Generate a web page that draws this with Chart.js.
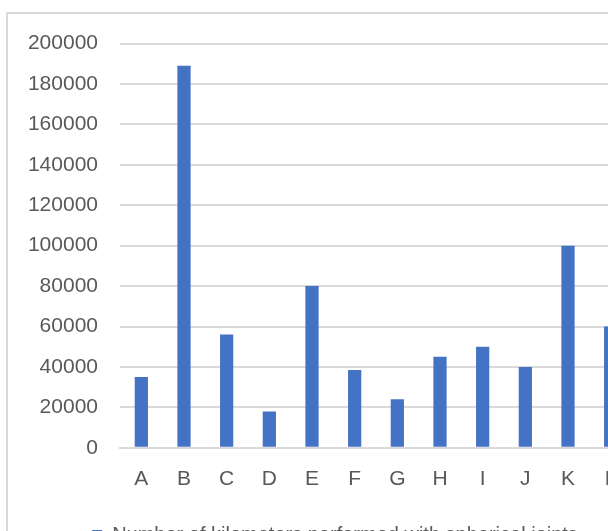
<!DOCTYPE html>
<html>
<head>
<meta charset="utf-8">
<script src="https://cdn.jsdelivr.net/npm/chart.js@4/dist/chart.umd.min.js"></script>
<style>
  body { margin: 0; background: #fff; overflow: hidden; width: 608px; height: 531px; }
  #frame { position: absolute; left: 6px; top: 12px; width: 680px; height: 580px; border: 2px solid #d9d9d9; }
  canvas { position: absolute; left: 0; top: -5px; }
</style>
</head>
<body>
<div id="frame"><canvas id="chart" width="660" height="546"></canvas></div>
<script>
// categories and values
const categories = ['A', 'B', 'C', 'D', 'E', 'F', 'G', 'H', 'I', 'J', 'K', 'L'];
const kilometers = [35000, 189000, 56000, 18000, 80000, 38500, 24000, 45000, 50000, 40000, 100000, 60000];
const seriesName = 'Number of kilometers performed with spherical joints';

const textColor = '#595959';
const gridColor = '#d9d9d9';
const font = { family: '"Liberation Sans", Arial, sans-serif', size: 21 };

// the legend sits centred on the whole (wider) chart, a bit right of our canvas centre
const legendShift = {
    id: 'legendShift',
    afterLayout(chart) {
        chart.legend.left += 15;
        chart.legend.right += 15;
    }
};

new Chart(document.getElementById('chart'), {
    type: 'bar',
    data: {
        labels: categories,
        datasets: [{
            label: seriesName,
            data: kilometers,
            backgroundColor: '#4472C4',
            barPercentage: 0.31,
            categoryPercentage: 1
        }]
    },
    options: {
        responsive: false,
        animation: false,
        layout: { padding: { top: 12, right: 36, left: 0, bottom: 0 } },
        plugins: {
            tooltip: { enabled: false },
            legend: {
                position: 'bottom',
                labels: { color: textColor, font: { family: font.family, size: 20 }, boxWidth: 10, boxHeight: 10, padding: 14 }
            }
        },
        scales: {
            x: {
                grid: { display: false, drawTicks: false },
                border: { color: gridColor, width: 2 },
                ticks: { color: textColor, font: font, padding: 19 }
            },
            y: {
                min: 0,
                max: 200000,
                afterFit: s => { s.width = 112; },
                grid: { color: gridColor, lineWidth: 2, drawTicks: false },
                border: { display: false },
                ticks: { stepSize: 20000, color: textColor, font: font, padding: 22, callback: v => String(v) }
            }
        }
    },
    plugins: [legendShift]
});
</script>
</body>
</html>
